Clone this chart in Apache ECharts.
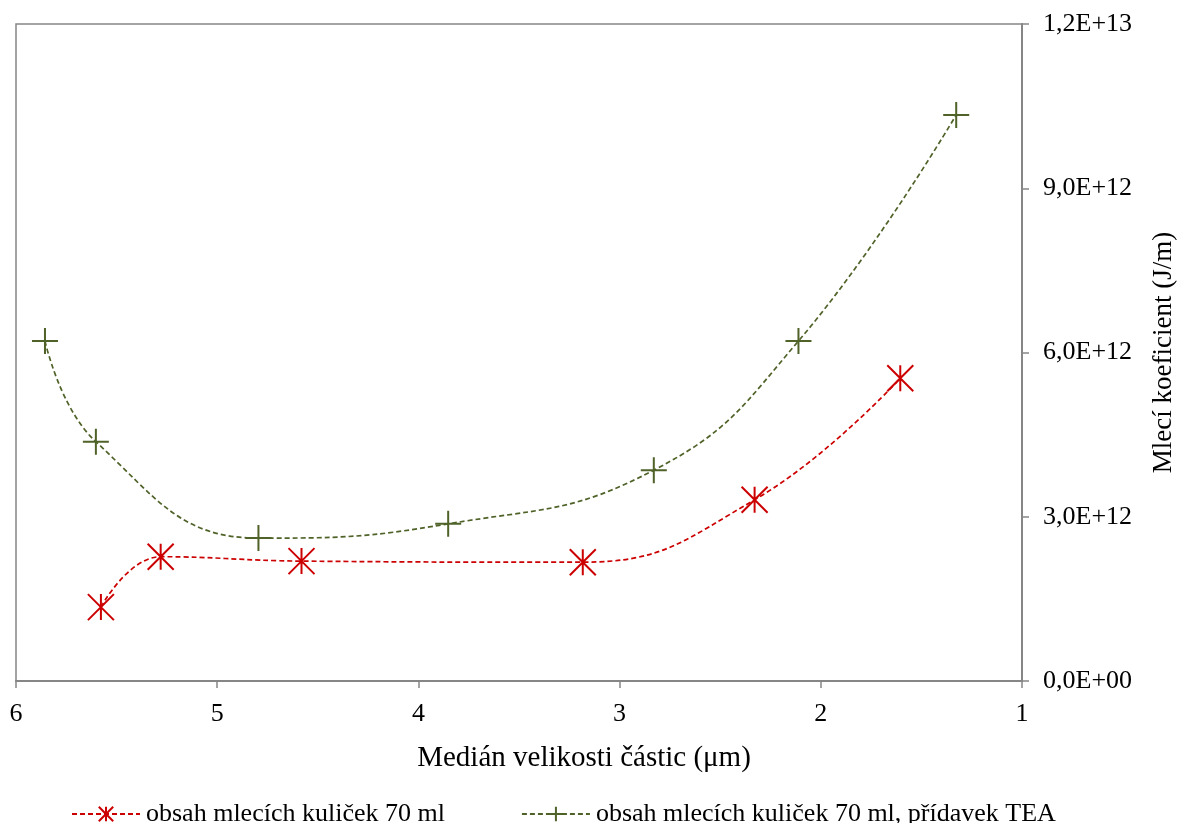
<!DOCTYPE html>
<html>
<head>
<meta charset="utf-8">
<script src="https://cdn.jsdelivr.net/npm/echarts@6/dist/echarts.min.js"></script>
<style>
  html, body { margin: 0; padding: 0; background: #fff; }
  #chart { width: 1185px; height: 823px; }
</style>
</head>
<body>
<div id="chart"></div>
<script>
// medián velikosti částic (µm) a mlecí koeficient (J/m)
const xKuličky = [5.578, 5.281, 4.581, 3.183, 2.329, 1.605]
const yKuličky = [1.35e12, 2.27e12, 2.19e12, 2.17e12, 3.31e12, 5.53e12]
const xTEA = [5.856, 5.603, 4.795, 3.852, 2.830, 2.111, 1.327]
const yTEA = [6.21e12, 4.37e12, 2.61e12, 2.87e12, 3.85e12, 6.21e12, 10.34e12]
const seriesNames = ['obsah mlecích kuliček 70 ml', 'obsah mlecích kuliček 70 ml, přídavek TEA']

const font = 'Liberation Serif, Times New Roman, serif'
const red = '#cc0000'
const green = '#4f6228'
const axisGray = '#868686'

const asterisk = 'path://M0,0L20,20M20,0L0,20M10,0L10,20'
const plus = 'path://M0,10L20,10M10,0L10,20'

function zip (xs, ys) {
  return xs.map((x, i) => [x, ys[i]])
}

// 1,2E+13 style labels
function sci (v) {
  if (v === 0) return '0,0E+00'
  const exp = Math.floor(Math.log10(Math.abs(v)) + 1e-9)
  const m = (v / Math.pow(10, exp)).toFixed(1).replace('.', ',')
  return m + 'E+' + String(exp).padStart(2, '0')
}

const myChart = echarts.init(document.getElementById('chart'))
const option = {
  animation: false,
  textStyle: { fontFamily: font, color: '#000' },
  grid: {
    left: 16,
    right: 160,
    top: 24,
    bottom: 142,
    show: true,
    borderColor: axisGray,
    borderWidth: 1.5
  },
  legend: {
    left: 66,
    top: 796,
    itemWidth: 68,
    itemHeight: 18,
    itemGap: 76,
    textStyle: { fontFamily: font, fontSize: 26, color: '#000', padding: [0, 0, 0, 1] },
    data: seriesNames
  },
  xAxis: {
    type: 'value',
    inverse: true,
    min: 1,
    max: 6,
    interval: 1,
    name: 'Medián velikosti částic (μm)',
    nameLocation: 'middle',
    nameGap: 63,
    nameTextStyle: { fontFamily: font, fontSize: 29, color: '#000', padding: [0, 0, 0, 130] },
    splitLine: { show: false },
    axisLine: { lineStyle: { color: axisGray, width: 2 } },
    axisTick: { inside: false, length: 7, lineStyle: { color: axisGray, width: 1.5 } },
    axisLabel: { fontFamily: font, fontSize: 26, color: '#000', margin: 20 }
  },
  yAxis: {
    type: 'value',
    position: 'right',
    min: 0,
    max: 1.2e13,
    interval: 3e12,
    name: 'Mlecí koeficient (J/m)',
    nameLocation: 'middle',
    nameGap: 128,
    nameTextStyle: { fontFamily: font, fontSize: 27, color: '#000' },
    splitLine: { show: false },
    axisLine: { show: true, lineStyle: { color: axisGray, width: 2 } },
    axisTick: { show: true, inside: false, length: 7, lineStyle: { color: axisGray, width: 1.5 } },
    axisLabel: { fontFamily: font, fontSize: 26, color: '#000', margin: 21, formatter: sci }
  },
  series: [
    {
      name: seriesNames[0],
      type: 'line',
      data: zip(xKuličky, yKuličky),
      smooth: 0.45,
      symbol: asterisk,
      symbolSize: 26,
      itemStyle: { color: red, borderColor: red, borderWidth: 2 },
      lineStyle: { color: red, width: 1.7, type: [5, 3] }
    },
    {
      name: seriesNames[1],
      type: 'line',
      data: zip(xTEA, yTEA),
      smooth: 0.45,
      symbol: plus,
      symbolSize: 26,
      itemStyle: { color: green, borderColor: green, borderWidth: 2 },
      lineStyle: { color: green, width: 1.7, type: [5, 3] }
    }
  ]
}
myChart.setOption(option)
</script>
</body>
</html>
